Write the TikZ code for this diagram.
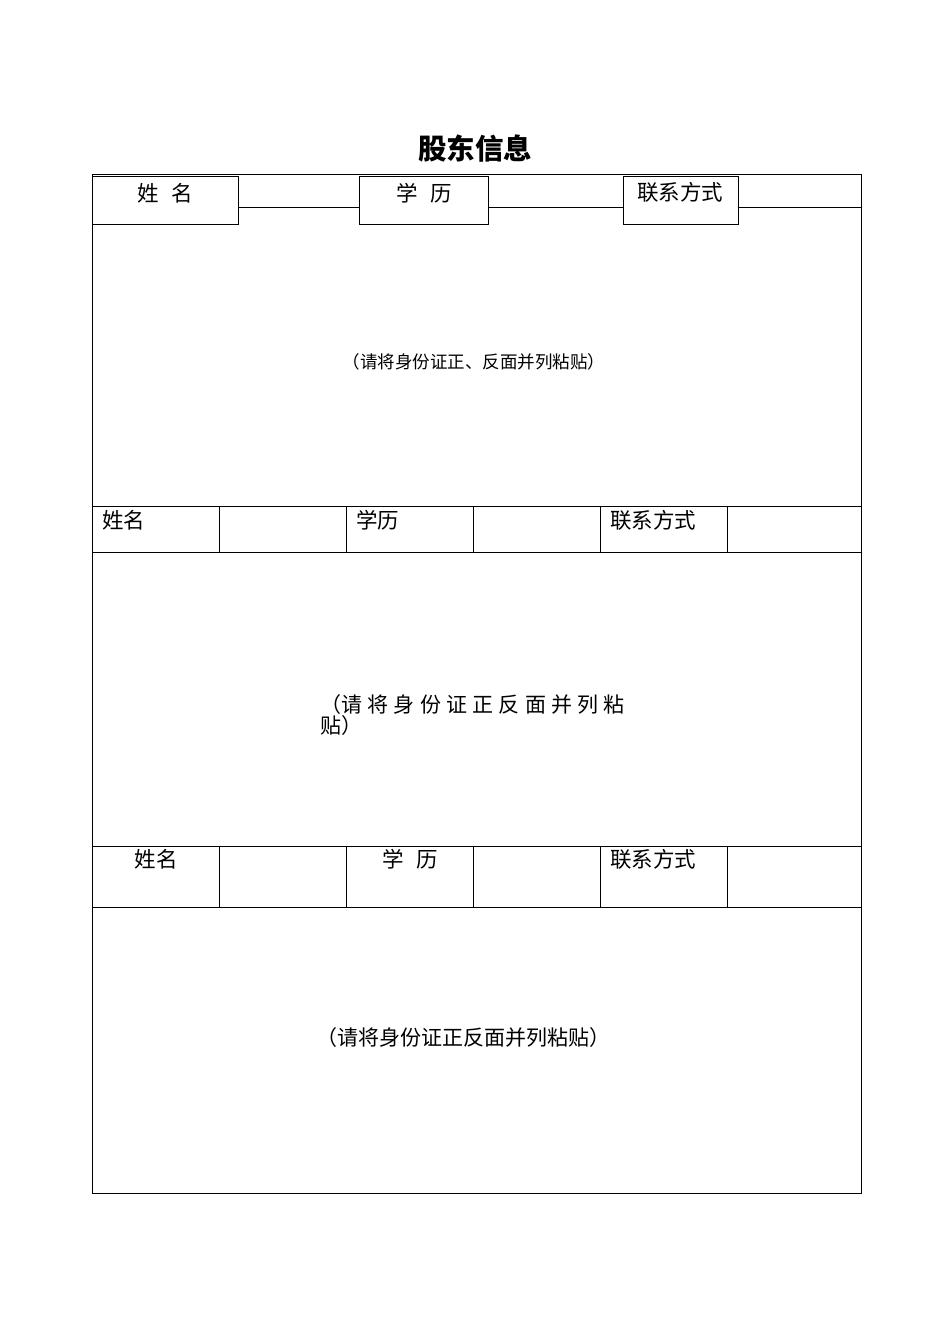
\documentclass[tikz,border=0pt]{standalone}
\usepackage{fontspec}
\setmainfont{Noto Sans CJK SC}
\begin{document}
\begin{tikzpicture}[x=1pt,y=-1pt,line width=0.8pt,
  lab/.style={inner sep=0pt,font=\fontsize{21.5}{21.5}\selectfont},
  note/.style={inner sep=0pt}]
\useasboundingbox (0,0) rectangle (950,1344);
\node[inner sep=0pt,font=\fontsize{28.5}{28.5}\selectfont\bfseries] (title) at (475,149) {股东信息};
% outer
\draw (92,174) rectangle (861,1193);
% top row
\draw (92,176) rectangle (238,224);
\draw (359,176) rectangle (488,224);
\draw (623,176) rectangle (738,224);
\draw (238,207) -- (359,207) (488,207) -- (623,207) (738,207) -- (861,207);
\node[lab] (n1) at (165,193) {姓\hspace{0.6em}名};
\node[lab] (x1) at (424,193) {学\hspace{0.6em}历};
\node[lab] (c1) at (680,192) {联系方式};
\node[note,font=\fontsize{17.5}{17.5}\selectfont] (t1) at (474,362) {（请将身份证正、反面并列粘贴）};
% row 2
\draw (92,506) -- (861,506) (92,552) -- (861,552);
\foreach \x in {219,346,473,600,727} \draw (\x,506) -- (\x,552);
\node[lab,anchor=west] (n2) at (102,520) {姓名};
\node[lab,anchor=west] (x2) at (356,520) {学历};
\node[lab,anchor=west] (c2) at (610,520) {联系方式};
\node[note,anchor=west,font=\fontsize{21}{21}\selectfont] (t2a) at (320,705) {（请\hspace{0.25em}将\hspace{0.25em}身\hspace{0.25em}份\hspace{0.25em}证\hspace{0.25em}正\hspace{0.25em}反\hspace{0.25em}面\hspace{0.25em}并\hspace{0.25em}列\hspace{0.25em}粘};
\node[note,anchor=west,font=\fontsize{21}{21}\selectfont] (t2b) at (320,726) {贴）};
% row 3
\draw (92,846) -- (861,846) (92,907) -- (861,907);
\foreach \x in {219,346,473,600,727} \draw (\x,846) -- (\x,907);
\node[lab] (n3) at (156,859) {姓名};
\node[lab] (x3) at (410,859) {学\hspace{0.6em}历};
\node[lab,anchor=west] (c3) at (610,859) {联系方式};
\node[note,font=\fontsize{21}{21}\selectfont] (t3) at (463,1038) {（请将身份证正反面并列粘贴）};
\end{tikzpicture}
\end{document}
